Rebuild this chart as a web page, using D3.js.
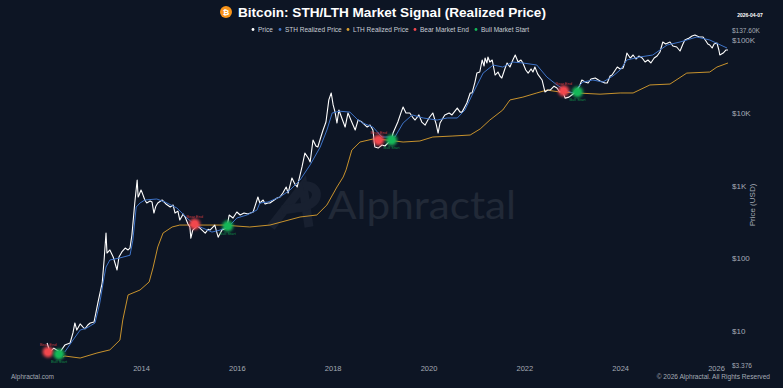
<!DOCTYPE html>
<html>
<head>
<meta charset="utf-8">
<script src="https://cdn.jsdelivr.net/npm/d3@7"></script>
<style>
    html, body { margin: 0; padding: 0; background: #0d1524; overflow: hidden; }
    text { font-family: "Liberation Sans", Arial, sans-serif; }
</style>
</head>
<body>
<div id="chart"></div>
<script>
// Values (decimal year, USD)
const priceYears = [2012.04,2012.10,2012.18,2012.31,2012.41,2012.52,2012.58,2012.62,2012.66,2012.73,2012.79,2012.83,2012.89,2012.94,2013.02,2013.10,2013.19,2013.23,2013.27,2013.29,2013.35,2013.42,2013.50,2013.54,2013.60,2013.67,2013.73,2013.77,2013.81,2013.87,2013.92,2013.94,2013.96,2014.00,2014.02,2014.08,2014.12,2014.19,2014.23,2014.27,2014.31,2014.35,2014.44,2014.52,2014.61,2014.67,2014.71,2014.77,2014.81,2014.88,2014.92,2014.98,2015.02,2015.04,2015.08,2015.17,2015.23,2015.34,2015.40,2015.44,2015.54,2015.61,2015.69,2015.79,2015.84,2015.92,2016.00,2016.07,2016.15,2016.23,2016.34,2016.44,2016.48,2016.55,2016.59,2016.65,2016.69,2016.78,2016.84,2016.90,2016.96,2017.03,2017.07,2017.15,2017.21,2017.26,2017.36,2017.42,2017.49,2017.53,2017.59,2017.65,2017.69,2017.76,2017.80,2017.86,2017.92,2017.97,2018.01,2018.05,2018.09,2018.13,2018.19,2018.26,2018.32,2018.38,2018.47,2018.53,2018.61,2018.72,2018.78,2018.84,2018.88,2018.95,2019.03,2019.09,2019.15,2019.22,2019.26,2019.36,2019.43,2019.47,2019.53,2019.61,2019.68,2019.72,2019.80,2019.86,2019.93,2020.01,2020.09,2020.16,2020.20,2020.24,2020.34,2020.43,2020.49,2020.60,2020.66,2020.70,2020.80,2020.87,2020.91,2020.97,2021.01,2021.07,2021.12,2021.16,2021.18,2021.22,2021.24,2021.28,2021.33,2021.37,2021.39,2021.45,2021.49,2021.53,2021.60,2021.64,2021.70,2021.76,2021.81,2021.87,2021.93,2021.97,2022.03,2022.08,2022.14,2022.18,2022.22,2022.28,2022.37,2022.43,2022.49,2022.54,2022.62,2022.68,2022.74,2022.80,2022.85,2022.93,2022.99,2023.05,2023.10,2023.16,2023.20,2023.27,2023.33,2023.39,2023.48,2023.58,2023.68,2023.73,2023.79,2023.83,2023.94,2024.00,2024.06,2024.10,2024.14,2024.21,2024.27,2024.33,2024.39,2024.46,2024.52,2024.58,2024.64,2024.71,2024.77,2024.83,2024.89,2024.95,2025.04,2025.10,2025.18,2025.25,2025.31,2025.35,2025.44,2025.50,2025.56,2025.65,2025.73,2025.79,2025.83,2025.87,2025.92,2025.96,2026.02,2026.06,2026.08,2026.15,2026.21,2026.25];
const priceValues = [6.84,5.15,5.8,5.15,6.4,6.84,9.4,12.9,10.3,12.5,11.3,10.7,12.1,12.9,13.3,24.3,45.7,94.6,222,118,130,104,69,104,122,138,130,138,208,575,1190,695,740,867,810,632,575,612,593,418,520,575,632,557,506,540,418,445,335,405,369,295,269,189,244,277,260,222,250,244,286,195,244,260,393,357,432,393,418,405,432,695,575,632,557,575,575,632,673,695,788,955,788,1270,1050,955,1800,2790,2390,2110,4220,3490,3380,4790,5790,7450,15000,18700,12800,10200,7220,10900,8470,6360,9930,7940,5790,7940,7450,6360,6770,5790,3380,3270,3600,3490,3830,4220,5260,7450,10200,12000,9930,9930,8470,7940,9330,7450,6770,8470,9930,6990,5260,7220,9330,9930,9330,11600,10200,10200,13600,18700,18700,26400,35100,36300,53100,43900,56500,48300,58400,49800,53100,38700,33000,36300,32000,30000,41200,48300,42500,53100,62200,49800,53100,48300,38700,35100,40000,36300,42500,34000,28200,19300,20500,20500,23200,21900,19300,20000,15900,16400,17500,18700,20500,24100,28200,26400,25600,29100,30000,27300,25600,25600,32000,33000,42500,40000,41200,49800,66200,56500,62200,54800,60200,56500,49800,53100,48300,56500,60200,68400,93900,88000,93900,82700,80100,70600,88000,100000,106500,113500,117000,110000,110000,96900,88000,85400,77600,88000,90900,72900,62200,66200,72900,72900];

const sthYears = [2012.41,2012.58,2012.73,2012.87,2013.04,2013.14,2013.23,2013.27,2013.35,2013.56,2013.77,2013.83,2013.90,2013.98,2014.08,2014.33,2014.50,2014.75,2014.96,2015.13,2015.29,2015.48,2015.65,2015.86,2016.00,2016.21,2016.42,2016.48,2016.65,2016.90,2017.11,2017.32,2017.53,2017.74,2017.88,2017.99,2018.15,2018.36,2018.53,2018.63,2018.84,2019.03,2019.30,2019.47,2019.66,2019.89,2020.18,2020.39,2020.60,2020.76,2020.93,2021.14,2021.35,2021.55,2021.76,2021.97,2022.26,2022.47,2022.68,2022.85,2023.01,2023.22,2023.43,2023.64,2023.85,2024.00,2024.14,2024.41,2024.68,2024.98,2025.25,2025.60,2025.87,2026.23];
const sthValues = [5.15,7.5,10.3,11,12.9,24.3,55.3,75.8,94.6,101,110,177,506,575,632,652,593,490,357,286,260,229,244,286,357,393,460,575,593,695,867,1190,1920,3380,5790,9930,10500,10200,7940,7220,6360,4640,4640,7220,9330,8470,7940,8470,8470,10900,18700,35100,45300,42500,49800,48300,45300,31000,24100,20500,18700,26400,28200,26400,32000,38700,53100,58400,62200,85400,93900,110000,100000,77600];

const lthYears = [2012.37,2012.41,2012.73,2013.08,2013.35,2013.56,2013.62,2013.73,2013.98,2014.17,2014.25,2014.35,2014.46,2014.65,2014.81,2015.23,2015.71,2016.27,2016.69,2017.32,2017.67,2017.88,2018.09,2018.22,2018.28,2018.40,2018.57,2018.84,2019.13,2019.47,2019.82,2020.09,2020.51,2020.87,2021.08,2021.28,2021.55,2021.70,2021.97,2022.26,2022.47,2022.74,2023.10,2023.58,2024.00,2024.27,2024.62,2025.04,2025.39,2025.87,2026.02,2026.25];
const lthValues = [4.4,4.53,4.25,4.98,5.5,7.5,14.2,31.3,36.6,47.2,73.5,143,222,269,286,286,286,269,286,369,393,540,955,1310,1640,3070,3960,4350,4220,3960,4090,4640,4790,4940,6000,7940,10900,15000,16400,18700,20500,19300,18700,18000,18700,18700,24100,24800,35100,36300,42500,48300];

const bearYears = [2012.06, 2015.12, 2018.96, 2022.82];
const bearValues = [5.15, 295, 4220, 20000];
const bullYears = [2012.29, 2015.81, 2019.23, 2023.11];
const bullValues = [4.8, 277, 4220, 19300];

const yearTicks = [2014, 2016, 2018, 2020, 2022, 2024, 2026];
const priceTicks = [10, 100, 1000, 10000, 100000];
const priceTickLabels = ["$10", "$100", "$1K", "$10K", "$100K"];
const axisMin = 3.41;
const axisMax = 137600;
const legendItems = ["Price", "STH Realized Price", "LTH Realized Price", "Bear Market End", "Bull Market Start"];

const width = 783;
const height = 388;
const colors = {
    bg: "#0d1524",
    price: "#ffffff",
    sth: "#3f74c8",
    lth: "#dca02e",
    bear: "#f2474d",
    bull: "#14b858",
    axis: "#a4aab4"
};

const svg = d3.select("#chart").append("svg")
    .attr("width", width)
    .attr("height", height)
    .style("display", "block")
    .style("background", colors.bg);

const defs = svg.append("defs");
const glow = defs.append("filter")
    .attr("id", "glow")
    .attr("x", "-100%").attr("y", "-100%")
    .attr("width", "300%").attr("height", "300%");
glow.append("feGaussianBlur").attr("stdDeviation", 1.5);

// Scales
const xScale = d3.scaleLinear().domain([2014, 2026]).range([141, 716]);
const yScale = d3.scaleLog().domain([10, 100000]).range([331, 40]);

// Watermark
const mark = svg.append("g").attr("fill", "none").attr("stroke", "#182030");
mark.append("path")
    .attr("stroke-width", 9)
    .attr("d", "M271,227 L303,186 L309,227");
mark.append("path")
    .attr("stroke-width", 9)
    .attr("d", "M303,186 C322,184 322,207 296,208 L282,210");
svg.append("text")
    .attr("x", 328).attr("y", 219)
    .attr("fill", "#212937")
    .style("font-family", "Lato, sans-serif")
    .style("font-size", "38px")
    .attr("textLength", 188)
    .attr("lengthAdjust", "spacingAndGlyphs")
    .text("Alphractal");

// Lines
const line = d3.line()
    .x(d => xScale(d[0]))
    .y(d => yScale(d[1]));

const drawLine = (years, values, color, strokeWidth) => {
    svg.append("path")
        .attr("d", line(years.map((y, i) => [y, values[i]])))
        .attr("fill", "none")
        .attr("stroke", color)
        .attr("stroke-width", strokeWidth)
        .attr("stroke-linejoin", "round");
};
drawLine(lthYears, lthValues, colors.lth, 0.9);
drawLine(priceYears, priceValues, colors.price, 1.1);
drawLine(sthYears, sthValues, colors.sth, 1);

// Signal markers
const drawSignals = (years, values, color, label, dy) => {
    years.forEach((yr, i) => {
        const cx = xScale(yr);
        const cy = yScale(values[i]);
        svg.append("circle")
            .attr("cx", cx).attr("cy", cy).attr("r", 5.5)
            .attr("fill", color)
            .attr("filter", "url(#glow)");
        svg.append("circle")
            .attr("cx", cx).attr("cy", cy).attr("r", 3)
            .attr("fill", color);
        svg.append("text")
            .attr("x", cx).attr("y", cy + dy)
            .attr("text-anchor", "middle")
            .attr("fill", color)
            .attr("fill-opacity", 0.75)
            .style("font-size", "4px")
            .text(label);
    });
};
drawSignals(bearYears, bearValues, colors.bear, "Bear End", -6);
drawSignals(bullYears, bullValues, colors.bull, "Bull Start", 9);

// Axes
const xAxis = d3.axisBottom(xScale)
    .tickValues(yearTicks)
    .tickFormat(d3.format("d"))
    .tickSize(0)
    .tickPadding(0);
const xG = svg.append("g").attr("transform", "translate(0,366)").call(xAxis);
xG.select(".domain").remove();
xG.selectAll("text")
    .attr("fill", colors.axis)
    .style("font-size", "7.5px");

const yAxis = d3.axisRight(yScale)
    .tickValues(priceTicks)
    .tickFormat((d, i) => priceTickLabels[i])
    .tickSize(0)
    .tickPadding(0);
const yG = svg.append("g").attr("transform", "translate(732,0)").call(yAxis);
yG.select(".domain").remove();
yG.selectAll("text")
    .attr("fill", colors.axis)
    .style("font-size", "8px");

svg.append("text")
    .attr("x", 732).attr("y", yScale(axisMax) + 3)
    .attr("fill", colors.axis)
    .style("font-size", "6.5px")
    .text("$137.60K");
svg.append("text")
    .attr("x", 732).attr("y", yScale(axisMin) + 3)
    .attr("fill", colors.axis)
    .style("font-size", "6.5px")
    .text("$3.376");

svg.append("text")
    .attr("transform", "translate(755,205) rotate(-90)")
    .attr("text-anchor", "middle")
    .attr("fill", colors.axis)
    .style("font-size", "8px")
    .text("Price (USD)");

svg.append("text")
    .attr("x", 750).attr("y", 17)
    .attr("text-anchor", "middle")
    .attr("fill", "#ffffff")
    .style("font-size", "5px")
    .style("font-weight", "bold")
    .text("2026-04-07");

// Title
const icon = svg.append("g").attr("transform", "translate(226,12)");
icon.append("circle").attr("r", 6).attr("fill", "#f7931a");
icon.append("text")
    .attr("text-anchor", "middle").attr("y", 3)
    .attr("fill", "#fff")
    .style("font-size", "8px")
    .style("font-weight", "bold")
    .text("₿");
svg.append("text")
    .attr("x", 238).attr("y", 17)
    .attr("fill", "#ffffff")
    .style("font-size", "13.6px")
    .style("font-weight", "bold")
    .text("Bitcoin: STH/LTH Market Signal (Realized Price)");

// Legend
const legendColors = [colors.price, colors.sth, colors.lth, colors.bear, colors.bull];
const legendDots = [253, 280, 348, 415, 476];
legendItems.forEach((name, i) => {
    svg.append("circle")
        .attr("cx", legendDots[i]).attr("cy", 29.5).attr("r", 1.4)
        .attr("fill", legendColors[i]);
    svg.append("text")
        .attr("x", legendDots[i] + 5).attr("y", 31.5)
        .attr("fill", "#c9ced6")
        .style("font-size", "6.5px")
        .text(name);
});

// Footer
svg.append("text")
    .attr("x", 11).attr("y", 379)
    .attr("fill", colors.axis)
    .style("font-size", "6.5px")
    .text("Alphractal.com");
svg.append("text")
    .attr("x", 770).attr("y", 379)
    .attr("text-anchor", "end")
    .attr("fill", colors.axis)
    .style("font-size", "6.6px")
    .text("© 2026 Alphractal. All Rights Reserved");
</script>
</body>
</html>
